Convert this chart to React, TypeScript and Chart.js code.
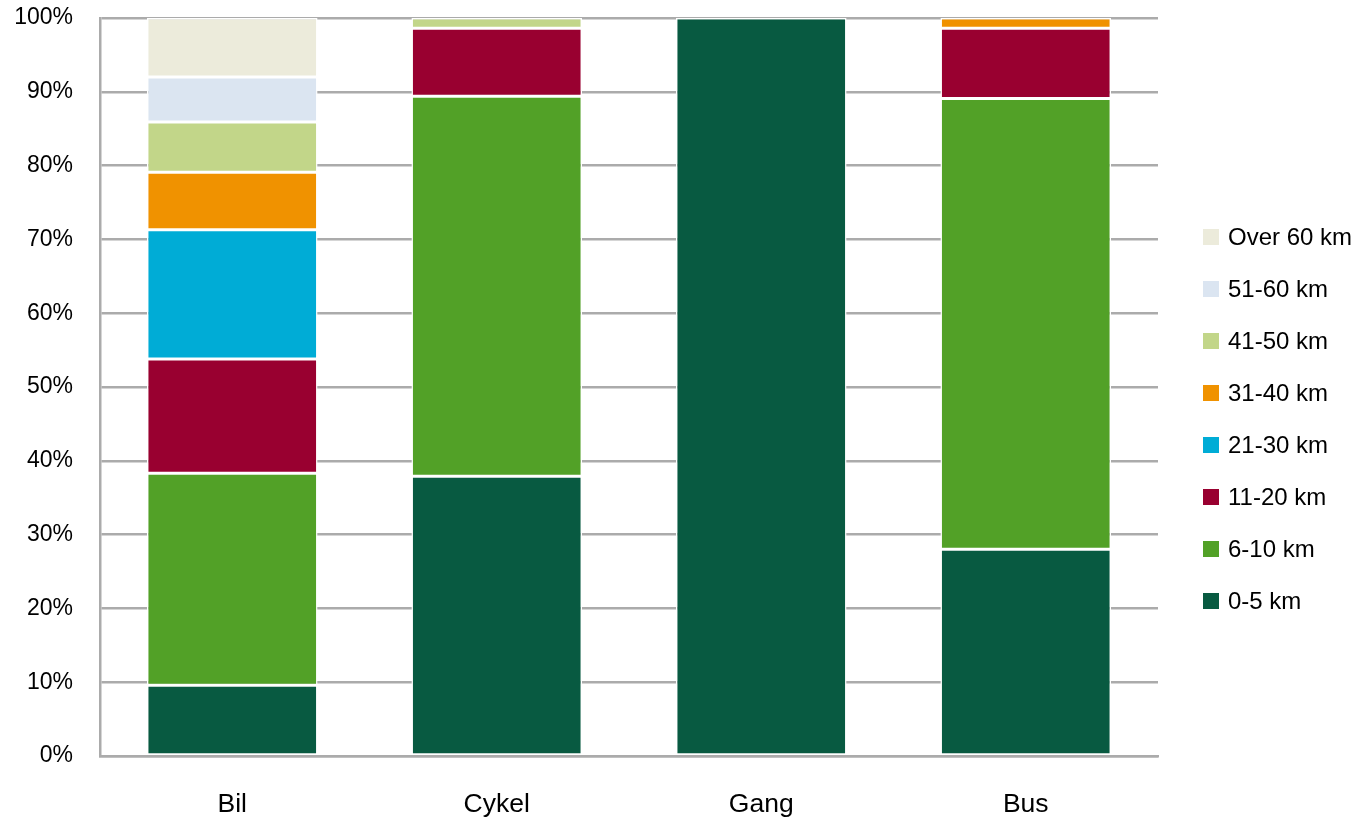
import React, { useEffect, useRef } from "react";
import { Chart, registerables } from "chart.js";

Chart.register(...registerables);

const categories = ["Bil", "Cykel", "Gang", "Bus"];
const seriesLabels = ["0-5 km", "6-10 km", "11-20 km", "21-30 km", "31-40 km", "41-50 km", "51-60 km", "Over 60 km"];
const seriesColors = ["#085A41", "#52A127", "#990030", "#00ACD6", "#F09200", "#C2D689", "#DBE5F1", "#ECEBDB"];
// values per series, ordered by categories (Bil, Cykel, Gang, Bus), in percent
const km0to5 = [9.6, 37.9, 100, 28.0];
const km6to10 = [28.7, 51.5, null, 61.1];
const km11to20 = [15.5, 9.2, null, 9.5];
const km21to30 = [17.5, null, null, null];
const km31to40 = [7.8, null, null, 1.4];
const km41to50 = [6.8, 1.4, null, null];
const km51to60 = [6.1, null, null, null];
const kmOver60 = [8.0, null, null, null];
const seriesValues = [km0to5, km6to10, km11to20, km21to30, km31to40, km41to50, km51to60, kmOver60];
const yTicks = [0, 10, 20, 30, 40, 50, 60, 70, 80, 90, 100];

const FONT = "'Liberation Sans', Arial, sans-serif";
const GRID = "#ababab";

const legendPlugin = {
  id: "sideLegend",
  afterDraw(chart: any) {
    const { ctx, chartArea } = chart;
    const ds = chart.data.datasets;
    const n = ds.length;
    const spacing = 52;
    const cy = (chartArea.top + chartArea.bottom) / 2 + 32;
    const startY = cy - ((n - 1) * spacing) / 2;
    const bx = chartArea.right + 45;
    ctx.save();
    ctx.font = `24px ${FONT}`;
    ctx.textBaseline = "middle";
    ctx.textAlign = "left";
    for (let i = 0; i < n; i++) {
      const d = ds[n - 1 - i];
      const y = startY + i * spacing;
      ctx.fillStyle = d.backgroundColor;
      ctx.fillRect(bx, y - 8, 16, 16);
      ctx.fillStyle = "#000";
      ctx.fillText(d.label, bx + 25, y + 1);
    }
    ctx.restore();
  },
};

export default function App() {
  const ref = useRef<HTMLCanvasElement>(null);
  useEffect(() => {
    if (!ref.current) return;
    const chart = new Chart(ref.current, {
      type: "bar",
      data: {
        labels: categories,
        datasets: seriesLabels.map((label, i) => ({
          label,
          data: seriesValues[i] as any,
          backgroundColor: seriesColors[i],
          borderColor: "#ffffff",
          borderWidth: 1.5,
          borderSkipped: false,
          categoryPercentage: 1,
          barPercentage: 0.645,
        })),
      },
      options: {
        responsive: false,
        animation: false,
        layout: { padding: { top: 18, right: 202, left: 0, bottom: 0 } },
        plugins: { legend: { display: false }, tooltip: { enabled: false } },
        scales: {
          x: {
            stacked: true,
            afterFit: (s: any) => {
              s.height = 62;
              s.paddingLeft = 0;
              s.paddingRight = 0;
            },
            grid: { display: false, drawTicks: false },
            border: { display: true, color: GRID, width: 2.5 },
            ticks: { color: "#000", font: { family: FONT, size: 26.5 }, padding: 33 },
          },
          y: {
            stacked: true,
            min: 0,
            max: 100,
            afterFit: (s: any) => {
              s.width = 100;
              s.paddingTop = 0;
              s.paddingBottom = 0;
            },
            afterBuildTicks: (s: any) => {
              s.ticks = yTicks.map((v) => ({ value: v }));
            },
            grid: { color: GRID, lineWidth: 2.5, drawTicks: false },
            border: { display: true, color: GRID, width: 2.5 },
            ticks: {
              color: "#000",
              font: { family: FONT, size: 23 },
              padding: 27,
              callback: (v: any) => `${v}%`,
            },
          },
        },
      },
      plugins: [legendPlugin],
    });
    return () => chart.destroy();
  }, []);
  return (
    <div style={{ position: "absolute", left: 0, top: 0, width: 1360, height: 818, background: "#fff" }}>
      <canvas ref={ref} width={1360} height={818} style={{ display: "block" }} />
    </div>
  );
}
